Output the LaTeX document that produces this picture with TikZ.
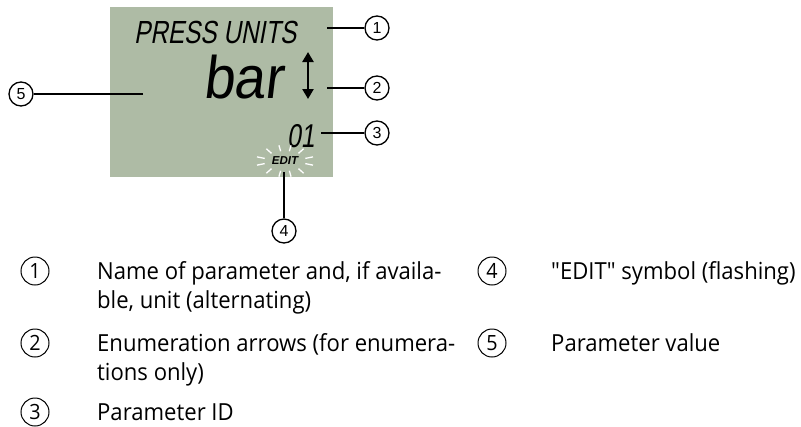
\documentclass[tikz,border=0pt]{standalone}
\usepackage{fontspec}
\setmainfont{Open Sans}
\newfontfamily\arialfont{Liberation Sans}
\newfontfamily\lcdfont[FakeSlant=0.18,FakeStretch=0.76]{Liberation Sans}
\newfontfamily\barfont[FakeSlant=0.12,FakeStretch=0.92]{Liberation Sans}
\newfontfamily\idfont[FakeSlant=0.15,FakeStretch=0.75]{Liberation Sans}
\newfontfamily\legfont[FakeStretch=0.94]{Open Sans}
\usetikzlibrary{arrows.meta,calc}
\definecolor{lcdgreen}{RGB}{174,187,165}
\tikzset{
  callout/.style={circle,draw=black,line width=1.3pt,minimum size=24pt,inner sep=0pt,
    font=\fontsize{16}{16}\selectfont\arialfont},
  leader/.style={draw=black,line width=1.3pt},
  legnum/.style={circle,draw=black,line width=1pt,minimum size=28pt,inner sep=0pt,
    font=\fontsize{21}{21}\selectfont\legfont},
  legtext/.style={anchor=base west,inner sep=0pt,font=\fontsize{23.5}{29}\selectfont\legfont},
  ray/.style={draw=white,line width=1.3pt}
}
\begin{document}
\begin{tikzpicture}[x=1pt,y=-1pt]
\useasboundingbox (0,0) rectangle (801,426);
% LCD
\fill[lcdgreen] (110,7) rectangle (333,177);
\node[anchor=base west,inner sep=0pt] (press) at (134,43) {\fontsize{32}{32}\selectfont\lcdfont PRESS UNITS};
\node[anchor=base west,inner sep=0pt] (bar) at (203,98) {\fontsize{60}{60}\selectfont\barfont bar};
\draw[line width=2.8pt,{Triangle[width=11pt,length=10pt]}-{Triangle[width=11pt,length=10pt]}] (308,52) -- (308,99);
\node[anchor=base west,inner sep=0pt] (id) at (287,147) {\fontsize{33}{33}\selectfont\idfont 01};
\node[inner sep=0pt] (edit) at (285,161) {\fontsize{11.5}{11.5}\selectfont\arialfont\bfseries\itshape EDIT};
\foreach \a in {15,50,78,102,130,165,195,230,258,282,310,345}
  \draw[ray] ($(285,161)+(\a:21 and 10)$) -- ($(285,161)+(\a:29 and 16)$);
% callouts
\node[callout] (c1) at (377,28) {1};
\node[callout] (c2) at (377,88) {2};
\node[callout] (c3) at (377,133) {3};
\node[callout] (c4) at (284,231) {4};
\node[callout] (c5) at (21,94) {5};
\coordinate (p1) at (327,28);
\coordinate (p2) at (327,88);
\coordinate (p3) at (321,133);
\coordinate (p4) at (284,172);
\coordinate (p5) at (143,94);
\draw[leader] (p1) -- (c1);
\draw[leader] (p2) -- (c2);
\draw[leader] (p3) -- (c3);
\draw[leader] (p4) -- (c4);
\draw[leader] (p5) -- (c5);
% legend
\node[legnum] (l1) at (35,271) {1};
\node[legnum] (l2) at (35,343) {2};
\node[legnum] (l3) at (35,412) {3};
\node[legnum] (l4) at (492,271) {4};
\node[legnum] (l5) at (492,343) {5};
\node[legtext] (t1a) at (97,279.5) {Name of parameter and, if availa-};
\node[legtext] (t1b) at (97,308.5) {ble, unit (alternating)};
\node[legtext] (t2a) at (97,351.5) {Enumeration arrows (for enumera-};
\node[legtext] (t2b) at (97,380.5) {tions only)};
\node[legtext] (t3) at (97,420.5) {Parameter ID};
\node[legtext] (t4) at (551,279.5) {"EDIT" symbol (flashing)};
\node[legtext] (t5) at (551,351.5) {Parameter value};
\end{tikzpicture}
\end{document}
